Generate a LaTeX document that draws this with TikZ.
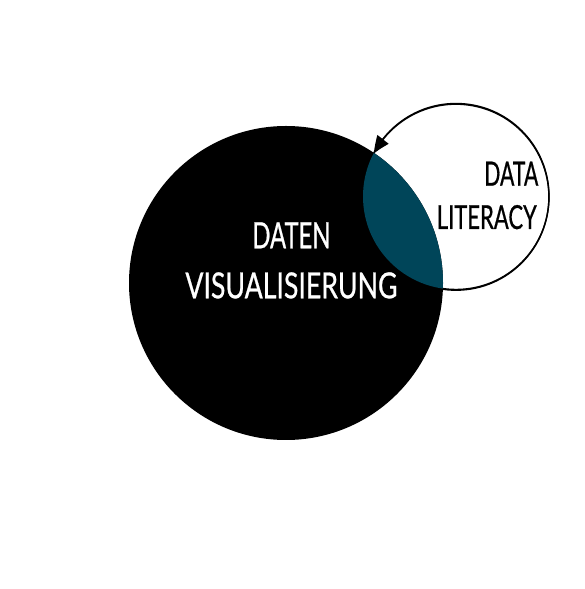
\documentclass[tikz,border=0pt]{standalone}
\usepackage{fontspec}
\setmainfont[FakeBold=0.8]{Lato}
\usetikzlibrary{arrows.meta,bending}
\definecolor{teal}{RGB}{0,69,89}
% set a word to a given width and height
\newcommand{\fitword}[3]{\resizebox{#1}{#2}{#3}}
\tikzset{
  bigcircle/.style={circle,fill=black,minimum size=314pt,inner sep=0pt},
  smallcircle/.style={circle,fill=white,draw=black,line width=1.4pt,minimum size=186pt,inner sep=0pt},
  vizlabel/.style={text=white,inner sep=0pt,anchor=base},
  litlabel/.style={text=black,inner sep=0pt,anchor=base east},
  cycle/.style={line width=1.4pt,-{Triangle[length=17pt,width=14pt,bend]}}
}
\begin{document}
\begin{tikzpicture}[x=1pt,y=1pt]
  \useasboundingbox (0,0) rectangle (584,589);
  % the two circles
  \node[smallcircle] (lit) at (456,392.5) {};
  \node[bigcircle] (viz) at (286,306) {};
  % overlap of the two circles
  \begin{scope}
    \clip (viz.center) circle[radius=157pt];
    \fill[teal] (lit.center) circle[radius=93pt];
  \end{scope}
  % arrow running round the small circle to the upper meeting point
  \draw[cycle] (lit.-98) arc[start angle=-98,end angle=152,radius=93pt];
  % labels
  \node[vizlabel] (daten) at (291.4,340.7) {\fitword{78pt}{26pt}{DATEN}};
  \node[vizlabel] (visual) at (291.4,290.7) {\fitword{212pt}{26pt}{VISUALISIERUNG}};
  \node[litlabel] (data) at (538.5,403.3) {\fitword{54pt}{24pt}{DATA}};
  \node[litlabel] (literacy) at (537,360) {\fitword{100pt}{24pt}{LITERACY}};
\end{tikzpicture}
\end{document}
